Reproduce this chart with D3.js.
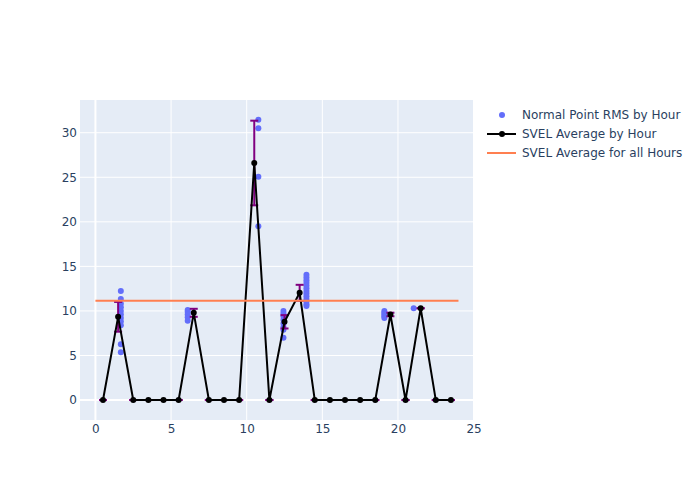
<!DOCTYPE html>
<html><head><meta charset="utf-8">
<script src="https://cdn.jsdelivr.net/npm/d3@7"></script>
<style>body{margin:0;background:#fff;} text{font-family:"DejaVu Sans",sans-serif;}</style>
</head><body><svg id="c" width="700" height="500"></svg>
<script>
const hours = [0.5,1.5,2.5,3.5,4.5,5.5,6.5,7.5,8.5,9.5,10.5,11.5,12.5,13.5,14.5,15.5,16.5,17.5,18.5,19.5,20.5,21.5,22.5,23.5];
const svelAvg = [0,9.34,0,0,0,0,9.79,0,0,0,26.6,0,8.78,12.03,0,0,0,0,0,9.6,0,10.3,0,0];
const svelErr = [0,1.67,0,0,0,0,0.45,0,0,0,4.75,0,0.75,0.9,0,0,0,0,0,0.2,0,0,0,0];
const rmsX = [1.68,1.68,1.68,1.68,1.68,1.68,1.68,1.68,1.68,1.68,1.68,
  6.1,6.1,6.1,6.1,6.1,
  10.77,10.77,10.77,10.77,
  12.43,12.43,12.43,12.43,12.43,12.43,12.43,12.43,
  13.95,13.95,13.95,13.95,13.95,13.95,13.95,13.95,13.95,13.95,13.95,13.95,13.95,
  19.1,19.1,19.1,19.1,19.1,
  21.04];
const rmsY = [12.25,11.35,10.8,10.4,10.0,9.6,9.2,8.8,8.4,6.25,5.35,
  10.1,9.9,9.6,9.3,8.9,
  31.45,30.5,25.05,19.5,
  10.0,9.7,9.4,9.0,8.6,8.2,7.9,7.0,
  14.05,13.75,13.45,13.15,12.85,12.55,12.25,11.95,11.65,11.35,11.05,10.75,10.55,
  10.0,9.8,9.6,9.4,9.2,
  10.3];
const overallAvg = 11.13;
const overallRange = [0, 24];
const xTicks = [0,5,10,15,20,25];
const yTicks = [0,5,10,15,20,25,30];
const legendLabels = ["Normal Point RMS by Hour","SVEL Average by Hour","SVEL Average for all Hours"];

const svg = d3.select("#c");
const L=80,R=473,T=100,B=420;
const x = d3.scaleLinear().domain([-1.02,24.96]).range([L,R]);
const y = d3.scaleLinear().domain([-2.24,33.67]).range([B,T]);
const fc = "#2a3f5f";
const ff = "'DejaVu Sans',sans-serif";

svg.append("rect").attr("x",L).attr("y",T).attr("width",R-L).attr("height",B-T).attr("fill","#e5ecf6");
const g = svg.append("g");
xTicks.forEach(t=>{ g.append("line").attr("x1",x(t)).attr("x2",x(t)).attr("y1",T).attr("y2",B)
  .attr("stroke","#fff").attr("stroke-width",t===0?2:1); });
yTicks.forEach(t=>{ g.append("line").attr("x1",L).attr("x2",R).attr("y1",y(t)).attr("y2",y(t))
  .attr("stroke","#fff").attr("stroke-width",t===0?2:1); });

const xa = svg.append("g").attr("transform",`translate(0,${B})`)
  .call(d3.axisBottom(x).tickValues(xTicks).tickSize(0).tickPadding(4));
const ya = svg.append("g").attr("transform",`translate(${L},0)`)
  .call(d3.axisLeft(y).tickValues(yTicks).tickSize(0).tickPadding(3));
[xa,ya].forEach(a=>{ a.select(".domain").remove();
  a.selectAll("text").attr("fill",fc).style("font-size","12px").style("font-family",ff); });

svg.append("clipPath").attr("id","cp").append("rect").attr("x",L).attr("y",T).attr("width",R-L).attr("height",B-T);
const pg = svg.append("g").attr("clip-path","url(#cp)");

// scatter
pg.selectAll(".rms").data(rmsX.map((v,i)=>[v,rmsY[i]])).enter().append("circle")
  .attr("cx",d=>x(d[0])).attr("cy",d=>y(d[1])).attr("r",3).attr("fill","#636efa");

// error bars
const eb = pg.append("g");
hours.forEach((h,i)=>{
  const e=svelErr[i], v=svelAvg[i];
  eb.append("line").attr("x1",x(h)).attr("x2",x(h)).attr("y1",y(v+e)).attr("y2",y(v-e)).attr("stroke","#800080").attr("stroke-width",2);
  [v+e,v-e].forEach(c=>eb.append("line").attr("x1",x(h)-4).attr("x2",x(h)+4).attr("y1",y(c)).attr("y2",y(c)).attr("stroke","#800080").attr("stroke-width",2));
});
// line
pg.append("path").datum(hours.map((h,i)=>[h,svelAvg[i]]))
  .attr("d",d3.line().x(d=>x(d[0])).y(d=>y(d[1]))).attr("fill","none").attr("stroke","#000").attr("stroke-width",2);
pg.selectAll(".pt").data(hours.map((h,i)=>[h,svelAvg[i]])).enter().append("circle")
  .attr("cx",d=>x(d[0])).attr("cy",d=>y(d[1])).attr("r",3).attr("fill","#000");
// overall line
pg.append("line").attr("x1",x(overallRange[0])).attr("x2",x(overallRange[1])).attr("y1",y(overallAvg)).attr("y2",y(overallAvg))
  .attr("stroke","#ff7f50").attr("stroke-width",2);

// legend
const lg = svg.append("g");
const ly=[115,134,153];
lg.append("circle").attr("cx",502).attr("cy",ly[0]).attr("r",3).attr("fill","#636efa");
lg.append("line").attr("x1",487).attr("x2",516).attr("y1",ly[1]).attr("y2",ly[1]).attr("stroke","#000").attr("stroke-width",2);
lg.append("circle").attr("cx",502).attr("cy",ly[1]).attr("r",3).attr("fill","#000");
lg.append("line").attr("x1",487).attr("x2",516).attr("y1",ly[2]).attr("y2",ly[2]).attr("stroke","#ff7f50").attr("stroke-width",2);
legendLabels.forEach((t,i)=>lg.append("text").attr("x",522).attr("y",ly[i]).attr("dy","0.35em")
  .attr("fill",fc).style("font-size","12px").style("font-family",ff).text(t));
</script></body></html>
